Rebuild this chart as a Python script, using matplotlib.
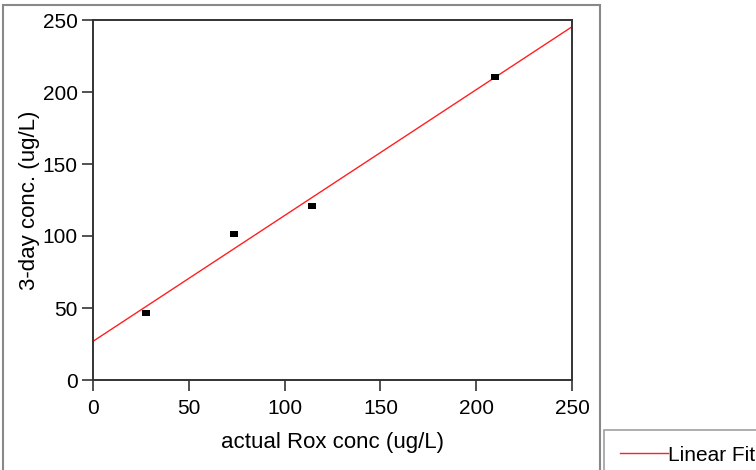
import numpy as np
import matplotlib
matplotlib.use("Agg")
import matplotlib.pyplot as plt
from matplotlib.patches import Rectangle

x_actual = [27.7, 73.6, 114.3, 209.8]
y_3day = [46.5, 101.4, 120.8, 210.4]
x_ticks = [0, 50, 100, 150, 200, 250]
y_ticks = [0, 50, 100, 150, 200, 250]

plt.rcParams['font.family'] = ['Liberation Sans', 'DejaVu Sans']

W, H = 756, 470
fig = plt.figure(figsize=(W / 100, H / 100), dpi=100)
ax = fig.add_axes([93 / W, 1 - 380 / H, (572 - 93) / W, (380 - 20) / H])

slope, intercept = np.polyfit(x_actual, y_3day, 1)
xx = np.array([0, 250])
fit_line, = ax.plot(xx, slope * xx + intercept, color='#ff2020', lw=1.0, label='Linear Fit')
rect_marker = [(-1.3, -1), (1.3, -1), (1.3, 1), (-1.3, 1), (-1.3, -1)]
ax.plot(x_actual, y_3day, linestyle='none', marker=rect_marker, color='black',
        markersize=5.4, markeredgewidth=0)

ax.set_xlim(0, 250)
ax.set_ylim(0, 250)
ax.set_xticks(x_ticks)
ax.set_yticks(y_ticks)
ax.tick_params(direction='out', length=8, width=1.2, labelsize=15, color='#333333')
ax.tick_params(axis='x', pad=6)
ax.tick_params(axis='y', pad=3)
for s in ax.spines.values():
    s.set_linewidth(1.4)
    s.set_color('#333333')
ax.set_xlabel('actual Rox conc (ug/L)', fontsize=16, labelpad=10)
ax.set_ylabel('3-day conc. (ug/L)', fontsize=16, labelpad=2)

# outer frame
fig.patches.append(Rectangle((3 / W, -0.05), (600 - 3) / W, 1.05 - 5 / H,
                             transform=fig.transFigure, fill=False,
                             edgecolor='#888888', lw=1.5))

leg = fig.legend(handles=[fit_line], loc='upper left',
                 bbox_to_anchor=(604 / W, 1 - 430 / H), fontsize=15,
                 frameon=True, fancybox=False, edgecolor='#888888',
                 handlelength=2.3, handletextpad=0.0, borderpad=0.75,
                 borderaxespad=0)
leg.get_frame().set_linewidth(1.2)

fig.savefig('out.png', dpi=100)
